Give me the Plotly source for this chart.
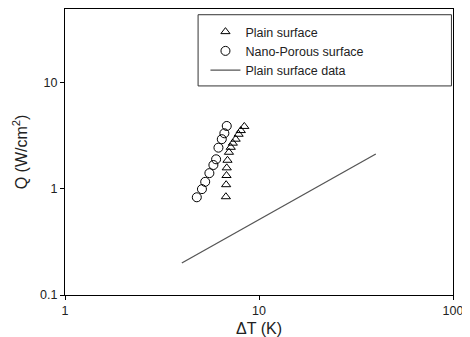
import plotly.graph_objects as go

# Plain surface (triangles)
plain_dT = [6.75, 6.77, 6.80, 6.82, 6.88, 7.00, 7.15, 7.33, 7.58, 7.85, 8.06, 8.40]
plain_Q = [0.84, 1.09, 1.33, 1.57, 1.85, 2.20, 2.45, 2.68, 2.92, 3.25, 3.52, 3.85]

# Nano-Porous surface (circles)
nano_dT = [4.78, 5.08, 5.28, 5.55, 5.82, 6.01, 6.18, 6.43, 6.63, 6.82]
nano_Q = [0.83, 0.99, 1.16, 1.40, 1.67, 1.89, 2.43, 2.92, 3.32, 3.89]

# Plain surface data (line)
line_dT = [4.0, 40.0]
line_Q = [0.20, 2.12]

x_ticks = [1, 10, 100]
y_ticks = [0.1, 1, 10]

FONT = "Liberation Sans, Arial, sans-serif"

fig = go.Figure()
fig.add_trace(go.Scatter(
    x=plain_dT, y=plain_Q, mode="markers", name="Plain surface",
    marker=dict(symbol="triangle-up-open", size=8, color="black", line=dict(width=1))))
fig.add_trace(go.Scatter(
    x=nano_dT, y=nano_Q, mode="markers", name="Nano-Porous surface",
    marker=dict(symbol="circle-open", size=9, color="black", line=dict(width=1))))
fig.add_trace(go.Scatter(
    x=line_dT, y=line_Q, mode="lines", name="Plain surface data",
    line=dict(color="#555555", width=1.3)))

# page body has an 8px margin, so the figure is 462x329 and offset by 8px
fig.update_layout(
    width=462, height=329,
    margin=dict(l=56.5, r=16.5, t=1.3, b=42.3),
    paper_bgcolor="white", plot_bgcolor="white",
    font=dict(family=FONT, size=13, color="#222222"),
    showlegend=True,
    legend=dict(x=0.362, y=0.972, xanchor="left", yanchor="top",
                bgcolor="rgba(0,0,0,0)", borderwidth=0,
                font=dict(size=12.5, color="#222222"),
                tracegroupgap=0, itemsizing="trace"),
    shapes=[dict(type="rect", xref="paper", yref="paper",
                 x0=0.343, x1=0.996, y0=0.731, y1=0.98,
                 line=dict(color="#333333", width=1), fillcolor="rgba(0,0,0,0)")],
)
fig.update_xaxes(type="log", range=[0, 2], tickvals=x_ticks, ticktext=["1", "10", "100"],
                 ticks="outside", ticklen=4, tickcolor="black", showgrid=False,
                 showline=True, linecolor="black", linewidth=1, mirror=True,
                 tickfont=dict(size=12.5),
                 automargin=False, title=dict(text="ΔT (K)", standoff=6), zeroline=False)
fig.update_yaxes(type="log", range=[-1, 1.69], tickvals=y_ticks, ticktext=["0.1", "1", "10"],
                 ticks="outside", ticklen=4, tickcolor="black", showgrid=False,
                 showline=True, linecolor="black", linewidth=1, mirror=True,
                 tickfont=dict(size=12.5),
                 automargin=False, title=dict(text="Q (W/cm<sup>2</sup>)", standoff=8), zeroline=False)

fig.write_html("out.html")
